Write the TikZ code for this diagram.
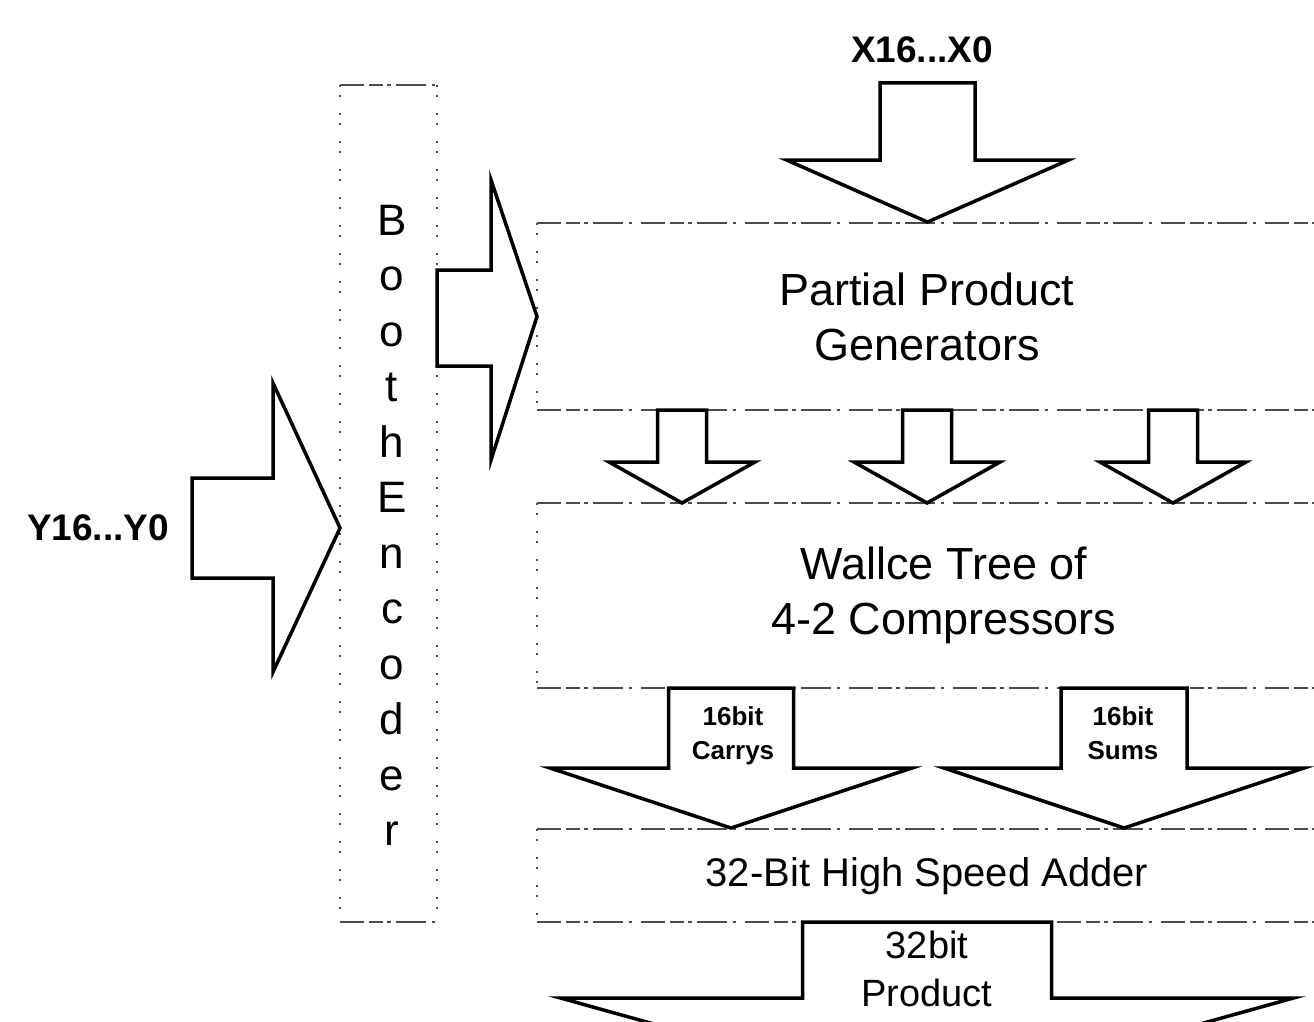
\documentclass[tikz,border=0pt]{standalone}
\usepackage{fontspec}
\setmainfont{Liberation Sans}
\begin{document}
\begin{tikzpicture}[x=1pt,y=-1pt]
\tikzset{
  blk/.style={draw=black, line width=3.5pt, fill=white, line join=miter},
  edgeline/.style={draw=black!70, line width=2pt, dash pattern=on 24pt off 5pt on 14pt off 4pt on 4pt off 5pt on 30pt off 6pt on 3pt off 9pt},
  sideline/.style={draw=black!70, line width=1.8pt, dash pattern=on 2pt off 8pt on 2pt off 16pt},
  area/.style={draw=none, inner sep=0, outer sep=0},
  bigtxt/.style={font=\fontsize{45}{55}\selectfont, align=center, inner sep=0},
  addtxt/.style={font=\fontsize{40}{50}\selectfont, align=center, inner sep=0},
  prodtxt/.style={font=\fontsize{38}{48}\selectfont, align=center, inner sep=0},
  smalltxt/.style={font=\fontsize{26}{34}\selectfont\bfseries, align=center, inner sep=0},
  inlabel/.style={font=\fontsize{37}{42}\selectfont\bfseries, inner sep=0},
  lettertxt/.style={font=\fontsize{44}{55.5}\selectfont, align=center, inner sep=0}
}
\newcommand\blkdown[7]{% name cx top shaftbottom halfshaft halfhead tip
  \draw[blk] (#2-#5,#3) -- (#2-#5,#4) -- (#2-#6,#4) -- (#2,#7) -- (#2+#6,#4) -- (#2+#5,#4) -- (#2+#5,#3) -- cycle;
  \coordinate (#1) at (#2,#7);}
\clip (0,0) rectangle (1314,1022);
\fill[white] (0,0) rectangle (1314,1022);

% box areas
\node[area, minimum width=777pt, minimum height=187pt] (ppg) at (925.5,316.5) {};
\node[area, minimum width=777pt, minimum height=185pt] (wal) at (925.5,595.5) {};
\node[area, minimum width=777pt, minimum height=93pt] (add) at (925.5,875.5) {};
\node[area, minimum width=97pt, minimum height=837pt] (booth) at (388.5,503.5) {};

% box outlines
\foreach \b in {ppg,wal,add,booth}{
  \draw[edgeline] (\b.north west) -- (\b.north east);
  \draw[edgeline] (\b.south west) -- (\b.south east);
  \draw[sideline] (\b.north west) -- (\b.south west);
}
\draw[sideline] (booth.north east) -- (booth.south east);

% texts
\node[bigtxt] (ppgtxt) at (927,317) {Partial Product\\Generators};
\node[bigtxt] (waltxt) at (944,595) {Wallce Tree of\\4-2 Compressors};
\node[addtxt] (addtxt) at (927,876) {32-Bit High Speed Adder};
\node[lettertxt, anchor=north] (boothtxt) at (392,205) {B\\o\\o\\t\\h\\E\\n\\c\\o\\d\\e\\r};

% input labels
\node[inlabel] (xlab) at (922,50) {X16...X0};
\node[inlabel] (ylab) at (98,528) {Y16...Y0};

% Y arrow into booth encoder
\draw[blk] (192,478) -- (273,478) -- (273,383) -- (booth.west |- ylab) -- (273,672) -- (273,578) -- (192,578) -- cycle;
% booth encoder to partial product generators
\draw[blk] (booth.east |- 0,270) -- (491,270) -- (491,180) -- (ppg.west) -- (491,460) -- (491,366) -- (booth.east |- 0,366) -- cycle;

% X arrow
\blkdown{xtip}{927.5}{83}{160}{47.5}{141}{222}
% PPG -> Wallace
\blkdown{s1}{682}{410}{462}{24.5}{73}{503}
\blkdown{s2}{927}{410}{462}{24.5}{73}{503}
\blkdown{s3}{1173}{410}{462}{24.5}{73}{503}
% Wallace -> adder
\blkdown{ctip}{731}{688}{768}{62.5}{181}{828}
\blkdown{stip}{1124}{688}{768}{63}{180}{828}
% adder -> product
\blkdown{ptip}{927}{922}{998}{124.5}{366.5}{1100}

\node[smalltxt, anchor=north] (carrytxt) at (733,706) {16bit\\Carrys};
\node[smalltxt, anchor=north] (sumtxt) at (1123,706) {16bit\\Sums};
\node[prodtxt] (prodtxt) at (927,969) {32bit\\Product};
\end{tikzpicture}
\end{document}
